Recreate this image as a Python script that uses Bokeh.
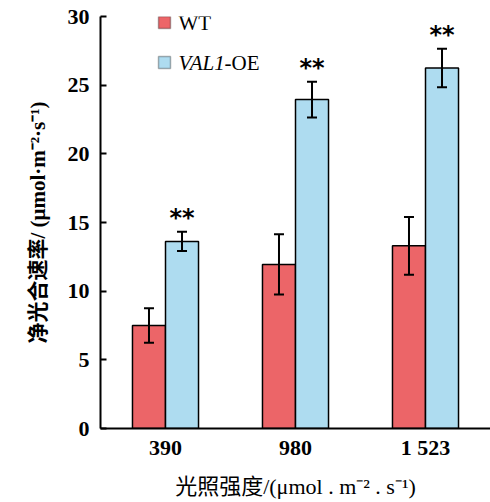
from bokeh.plotting import figure
from bokeh.models import FactorRange, Whisker, ColumnDataSource, Label, TeeHead, Range1d, BoxAnnotation, Title
from bokeh.transform import dodge
from bokeh.embed import file_html
from bokeh.resources import INLINE
from bokeh.core.properties import value

categories = ["390", "980", "1 523"]
wt_mean = [7.5, 11.95, 13.3]
wt_err = [1.25, 2.2, 2.1]
oe_mean = [13.62, 23.95, 26.25]
oe_err = [0.7, 1.3, 1.4]
sig = ["**", "**", "**"]
y_title = "净光合速率/ (μmol·m⁻²·s⁻¹)"
x_title = "光照强度/(μmol . m⁻² . s⁻¹)"

RED = "#EC6568"
BLUE = "#AEDCF0"
SERIF = "Liberation Serif, Noto Sans CJK SC"

src = ColumnDataSource(dict(
    x=categories,
    wt=wt_mean, wt_lo=[m - e for m, e in zip(wt_mean, wt_err)], wt_hi=[m + e for m, e in zip(wt_mean, wt_err)],
    oe=oe_mean, oe_lo=[m - e for m, e in zip(oe_mean, oe_err)], oe_hi=[m + e for m, e in zip(oe_mean, oe_err)],
    sig=sig,
))

p = figure(x_range=FactorRange(*categories, range_padding=0), y_range=Range1d(0, 30),
           frame_width=390, frame_height=412,
           min_border_left=100, min_border_right=0, min_border_top=16, min_border_bottom=70,
           output_backend="svg", toolbar_location=None)
p.outline_line_color = None
p.grid.grid_line_color = None

off = 0.127
w = 0.254
p.vbar(x=dodge("x", -off, range=p.x_range), top="wt", width=w, source=src,
       fill_color=RED, line_color="black", line_width=1.5)
p.vbar(x=dodge("x", off, range=p.x_range), top="oe", width=w, source=src,
       fill_color=BLUE, line_color="black", line_width=1.5)

for base_off, lo, hi in [(-off, "wt_lo", "wt_hi"), (off, "oe_lo", "oe_hi")]:
    wk = Whisker(base=dodge("x", base_off, range=p.x_range), upper=hi, lower=lo, source=src,
                 line_color="black", line_width=2, level="overlay",
                 upper_head=TeeHead(size=10, line_width=2, line_color="black"),
                 lower_head=TeeHead(size=10, line_width=2, line_color="black"))
    p.add_layout(wk)

p.text(x=dodge("x", off, range=p.x_range), y="oe_hi", text="sig", source=src,
       text_align="center", text_baseline="alphabetic", y_offset=-14,
       text_font=value("DejaVu Sans"), text_font_size="24px", text_font_style="bold",
       text_color="black")

# axes
for ax in (p.xaxis[0], p.yaxis[0]):
    ax.axis_line_width = 2
    ax.axis_line_color = "black"
    ax.major_label_text_font = "Liberation Serif"
    ax.major_label_text_font_style = "bold"
    ax.major_label_text_font_size = "22px"
    ax.major_label_text_color = "black"
    ax.minor_tick_line_color = None

p.yaxis.major_tick_in = 6
p.yaxis.major_tick_out = 0
p.yaxis.major_tick_line_width = 2
p.yaxis.major_label_standoff = 11
p.yaxis.ticker = [0, 5, 10, 15, 20, 25, 30]

p.xaxis.major_tick_in = 0
p.xaxis.major_tick_out = 0
p.xaxis.major_label_standoff = 6

# axis titles as side titles
p.add_layout(Title(text=y_title, align="center", standoff=30,
                   text_font=SERIF, text_font_style="bold", text_font_size="21px",
                   text_color="black"), "left")
p.add_layout(Title(text=x_title, align="center", standoff=18,
                   text_font=SERIF, text_font_style="normal", text_font_size="22px",
                   text_color="black"), "below")

# legend (manual, for mixed italic text)
leg_items = [(406, RED, [("WT", "normal", 0)]),
             (366, BLUE, [("VAL1", "italic", 0), ("-OE", "normal", 46)])]
for yy, col, parts in leg_items:
    p.add_layout(BoxAnnotation(left=58, right=70, bottom=yy - 6, top=yy + 6,
                               left_units="screen", right_units="screen",
                               bottom_units="screen", top_units="screen",
                               fill_color=col, fill_alpha=1, line_color="black", line_width=1.5,
                               level="overlay"))
    for txt, style, dx in parts:
        p.add_layout(Label(x=78 + dx, y=yy, x_units="screen", y_units="screen", text=txt,
                           text_font="Liberation Serif", text_font_style=style,
                           text_font_size="21px", text_baseline="middle", text_color="black"))

out = file_html(p, INLINE)
open("out.html", "w").write(out)
